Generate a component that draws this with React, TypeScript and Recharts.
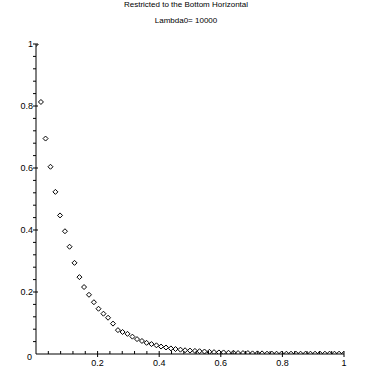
import React from "react";
import { ScatterChart, Scatter, XAxis, YAxis } from "recharts";

const titleLine1 = "Restricted to the Bottom Horizontal";
const titleLine2 = "Lambda0= 10000";

const xValues = [
  0, 0.016, 0.031, 0.047, 0.063, 0.078, 0.094, 0.109, 0.125, 0.141, 0.156, 0.172, 0.188,
  0.203, 0.219, 0.234, 0.25, 0.266, 0.281, 0.297, 0.313, 0.328, 0.344, 0.359, 0.375,
  0.391, 0.406, 0.422, 0.438, 0.453, 0.469, 0.484, 0.5, 0.516, 0.531, 0.547, 0.563,
  0.578, 0.594, 0.609, 0.625, 0.641, 0.656, 0.672, 0.688, 0.703, 0.719, 0.734, 0.75,
  0.766, 0.781, 0.797, 0.813, 0.828, 0.844, 0.859, 0.875, 0.891, 0.906, 0.922, 0.938,
  0.953, 0.969, 0.984, 1,
];

const yValues = [
  1, 0.813, 0.695, 0.604, 0.523, 0.447, 0.396, 0.346, 0.294, 0.248, 0.216, 0.191, 0.167,
  0.146, 0.13, 0.117, 0.098, 0.077, 0.071, 0.065, 0.056, 0.048, 0.042, 0.036, 0.032,
  0.028, 0.024, 0.021, 0.018, 0.016, 0.014, 0.012, 0.011, 0.01, 0.009, 0.008, 0.007,
  0.006, 0.005, 0.005, 0.004, 0.004, 0.003, 0.003, 0.003, 0.002, 0.002, 0.002, 0.001,
  0.001, 0.001, 0.001, 0.001, 0.001, 0.001, 0.001, 0.001, 0.001, 0.001, 0.001, 0.001,
  0.001, 0.001, 0.001, 0.001,
];

const axisTicks = [
  0, 0.04, 0.08, 0.12, 0.16, 0.2, 0.24, 0.28, 0.32, 0.36, 0.4, 0.44, 0.48, 0.52, 0.56, 0.6,
  0.64, 0.68, 0.72, 0.76, 0.8, 0.84, 0.88, 0.92, 0.96, 1,
];
const labeledTicks = [0.2, 0.4, 0.6, 0.8, 1];
const labelText: Record<string, string> = { "0.2": "0.2", "0.4": "0.4", "0.6": "0.6", "0.8": "0.8", "1": "1" };

const data = xValues.map((x, i) => ({ x, y: yValues[i] }));

const FONT = "'Liberation Sans', Arial, sans-serif";

const isMajor = (v: number) => labeledTicks.some((t) => Math.abs(t - v) < 1e-6);

const XTick = (props: any) => {
  const { x, y, payload } = props;
  const v = payload.value;
  const major = isMajor(v);
  return (
    <g>
      {v !== 0 && (
        <line x1={x} x2={x} y1={y - 3} y2={major ? y + 3 : y} stroke="#000" strokeWidth={1} />
      )}
      {major && (
        <text x={x} y={y + 12} textAnchor="middle" fontSize={9} fontFamily={FONT} fill="#000">
          {labelText[String(v)]}
        </text>
      )}
    </g>
  );
};

const YTick = (props: any) => {
  const { x, y, payload } = props;
  const v = payload.value;
  const major = isMajor(v);
  if (v === 0) {
    return (
      <text x={x - 4} y={y + 6} textAnchor="end" fontSize={9} fontFamily={FONT} fill="#000">
        0
      </text>
    );
  }
  return (
    <g>
      <line x1={x - 3} x2={major ? x + 2 : x} y1={y} y2={y} stroke="#000" strokeWidth={1} />
      {major && (
        <text x={x - 3} y={y + 3} textAnchor="end" fontSize={9} fontFamily={FONT} fill="#000">
          {labelText[String(v)]}
        </text>
      )}
    </g>
  );
};

const Diamond = (props: any) => {
  const { cx, cy } = props;
  const r = 2.5;
  return (
    <polygon
      points={`${cx},${cy - r} ${cx + r},${cy} ${cx},${cy + r} ${cx - r},${cy}`}
      fill="none"
      stroke="#000"
      strokeWidth={1}
    />
  );
};

export default function App() {
  return (
    <div style={{ position: "absolute", left: 0, top: 0, width: 370, height: 370, background: "#fff" }}>
      <div
        style={{
          position: "absolute",
          left: 0,
          top: 0,
          width: 372,
          textAlign: "center",
          fontFamily: FONT,
          fontSize: 8,
          lineHeight: "10px",
          color: "#000",
        }}
      >
        <div style={{ position: "absolute", top: 0, width: "100%" }}>{titleLine1}</div>
        <div style={{ position: "absolute", top: 16, width: "100%" }}>{titleLine2}</div>
      </div>
      <ScatterChart width={370} height={370} margin={{ top: 44, right: 26, left: 0, bottom: 0 }}>
        <XAxis
          type="number"
          dataKey="x"
          domain={[0, 1]}
          ticks={axisTicks}
          interval={0}
          height={16}
          tickLine={false}
          tickSize={0}
          tickMargin={0}
          axisLine={{ stroke: "#000", strokeWidth: 1 }}
          tick={<XTick />}
          allowDataOverflow
        />
        <YAxis
          type="number"
          dataKey="y"
          domain={[0, 1]}
          ticks={axisTicks}
          interval={0}
          width={36}
          tickLine={false}
          tickSize={0}
          tickMargin={0}
          axisLine={{ stroke: "#000", strokeWidth: 1 }}
          tick={<YTick />}
          allowDataOverflow
        />
        <Scatter data={data} shape={<Diamond />} isAnimationActive={false} />
      </ScatterChart>
    </div>
  );
}
